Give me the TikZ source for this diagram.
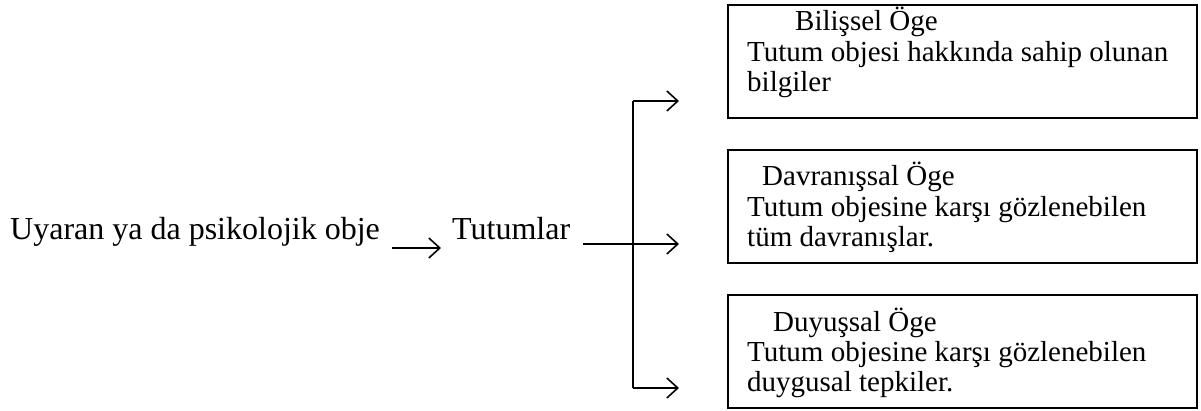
\documentclass[tikz,border=0pt]{standalone}
\usepackage{fontspec}
\setmainfont{Liberation Serif}
\usetikzlibrary{arrows.meta}
\begin{document}
\begin{tikzpicture}[x=1pt,y=-1pt,
  txt/.style={anchor=base west,inner sep=0pt,font=\fontsize{29}{30}\selectfont},
  big/.style={anchor=base west,inner sep=0pt,font=\fontsize{32}{34}\selectfont},
  box/.style={draw,line width=2pt},
  conn/.style={line width=1.6pt,-{Straight Barb[length=11pt,width=20pt,line width=1.6pt]}},
  plain/.style={line width=1.6pt}]
\useasboundingbox (0,0) rectangle (1201,411);
% boxes
\draw[box] (728,5) rectangle (1197,118);
\draw[box] (728,150) rectangle (1197,263);
\draw[box] (728,295) rectangle (1197,408);
% box texts
\node[txt] (b1a) at (795,31) {Bilişsel Öge};
\node[txt] (b1b) at (747,62) {Tutum objesi hakkında sahip olunan};
\node[txt] (b1c) at (747,92) {bilgiler};
\node[txt] (b2a) at (762,186) {Davranışsal Öge};
\node[txt] (b2b) at (747,217) {Tutum objesine karşı gözlenebilen};
\node[txt] (b2c) at (747,247) {tüm davranışlar.};
\node[txt] (b3a) at (773,331) {Duyuşsal Öge};
\node[txt] (b3b) at (747,361) {Tutum objesine karşı gözlenebilen};
\node[txt] (b3c) at (747,391) {duygusal tepkiler.};
% main texts
\node[big] (u) at (10,240) {Uyaran ya da psikolojik obje};
\node[big] (t) at (452,240) {Tutumlar};
% connectors
\coordinate (a1s) at (392,248);
\coordinate (a1e) at (441,248);
\draw[conn] (a1s) -- (a1e);
\coordinate (hs) at (583,244);
\coordinate (j) at (633,244);
\coordinate (top) at (633,101);
\coordinate (bot) at (633,388);
\coordinate (e1) at (679,101);
\coordinate (e2) at (679,244);
\coordinate (e3) at (679,388);
\draw[plain] (top) -- (bot);
\draw[conn] (hs) -- (e2);
\draw[conn] (top) -- (e1);
\draw[conn] (bot) -- (e3);
\end{tikzpicture}
\end{document}
